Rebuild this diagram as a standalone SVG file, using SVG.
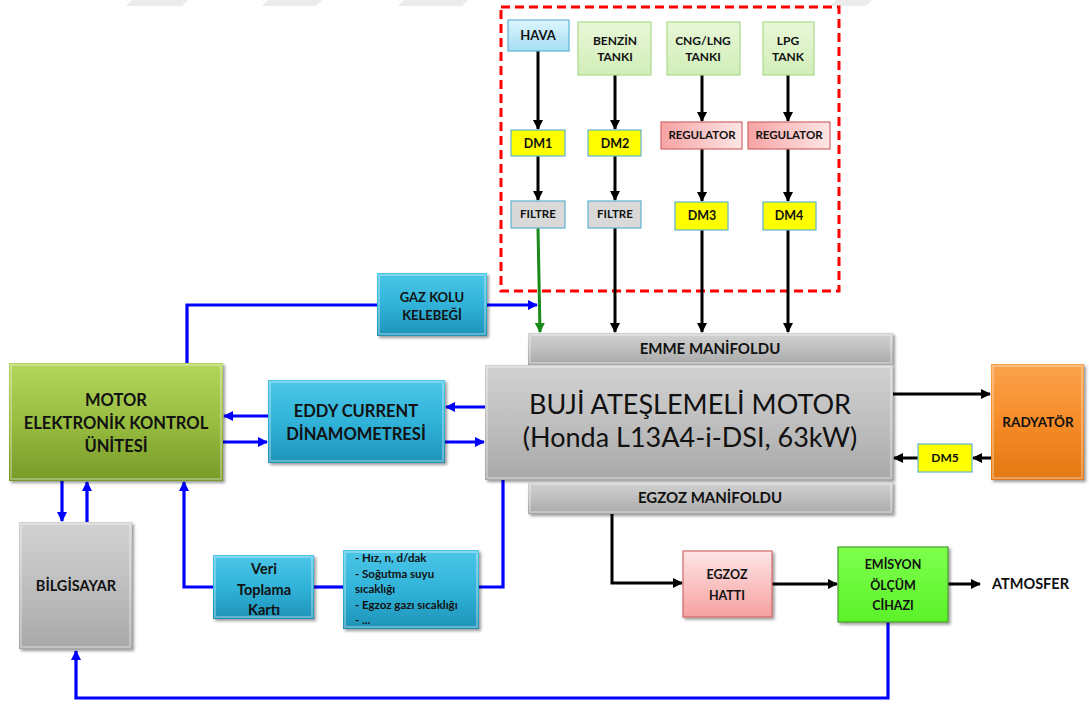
<svg xmlns="http://www.w3.org/2000/svg" width="1089" height="704" viewBox="0 0 1089 704">
<defs>
<style>
text{font-family:Lato,"Open Sans","Liberation Sans",sans-serif;font-weight:bold;fill:#111;text-anchor:middle}
text.reg{font-weight:normal}
text.l{text-anchor:start}
.blk{fill:none;stroke:#000;stroke-width:3;marker-end:url(#ab)}
.blu{fill:none;stroke:#0000ff;stroke-width:3.2;marker-end:url(#au)}
.blun{fill:none;stroke:#0000ff;stroke-width:3.2}
.grn{fill:none;stroke:#1a8a1a;stroke-width:3;marker-end:url(#ag)}
.bev{fill:none;stroke:#fff;stroke-opacity:.3;stroke-width:2}
.sh{filter:url(#shadow)}
</style>
<filter id="shadow" x="-10%" y="-10%" width="130%" height="130%">
<feDropShadow dx="2" dy="2" stdDeviation="1.5" flood-color="#000" flood-opacity="0.4"/>
</filter>
<linearGradient id="gBlue" x1="0" y1="0" x2="0" y2="1"><stop offset="0" stop-color="#4cc6e8"/><stop offset=".5" stop-color="#31b3d9"/><stop offset="1" stop-color="#1f93b8"/></linearGradient>
<linearGradient id="gEcu" x1="0" y1="0" x2="0" y2="1"><stop offset="0" stop-color="#b4d65c"/><stop offset=".5" stop-color="#98bd40"/><stop offset="1" stop-color="#789a28"/></linearGradient>
<linearGradient id="gGray" x1="0" y1="0" x2="0" y2="1"><stop offset="0" stop-color="#d2d2d2"/><stop offset=".5" stop-color="#bfbfbf"/><stop offset="1" stop-color="#a8a8a8"/></linearGradient>
<linearGradient id="gOrange" x1="0" y1="0" x2="0" y2="1"><stop offset="0" stop-color="#fba24c"/><stop offset=".5" stop-color="#f68c28"/><stop offset="1" stop-color="#e27812"/></linearGradient>
<linearGradient id="gAir" x1="0" y1="0" x2="0" y2="1"><stop offset="0" stop-color="#dcf5fd"/><stop offset="1" stop-color="#a6def3"/></linearGradient>
<linearGradient id="gTank" x1="0" y1="0" x2="0" y2="1"><stop offset="0" stop-color="#e8f7d8"/><stop offset="1" stop-color="#d2eeb8"/></linearGradient>
<linearGradient id="gReg" x1="0" y1="0" x2="1" y2="0"><stop offset="0" stop-color="#f7a3a3"/><stop offset="1" stop-color="#fde6e6"/></linearGradient>
<linearGradient id="gExh" x1="0" y1="0" x2="0" y2="1"><stop offset="0" stop-color="#fde6e6"/><stop offset="1" stop-color="#f7a0a0"/></linearGradient>
<linearGradient id="gEm" x1="0" y1="0" x2="0" y2="1"><stop offset="0" stop-color="#7dff4d"/><stop offset="1" stop-color="#5cf22a"/></linearGradient>
<marker id="ab" viewBox="0 0 10 10" refX="9" refY="5" markerWidth="11" markerHeight="10" markerUnits="userSpaceOnUse" orient="auto"><path d="M0,0 L10,5 L0,10 z" fill="#000"/></marker>
<marker id="au" viewBox="0 0 10 10" refX="9" refY="5" markerWidth="11" markerHeight="10" markerUnits="userSpaceOnUse" orient="auto"><path d="M0,0 L10,5 L0,10 z" fill="#0000ff"/></marker>
<marker id="ag" viewBox="0 0 10 10" refX="9" refY="5" markerWidth="11" markerHeight="10" markerUnits="userSpaceOnUse" orient="auto"><path d="M0,0 L10,5 L0,10 z" fill="#1a8a1a"/></marker>
</defs>
<rect width="1089" height="704" fill="#fff"/>
<g id="watermark" fill="#ececec">
<polygon points="132,0 188,0 182,6 126,6"/>
<polygon points="268,0 322,0 316,6 262,6"/>
<polygon points="404,0 468,0 462,6 398,6"/>
<polygon points="836,0 872,0 866,6 830,6"/>
</g>
<rect id="fuelFrame" x="501" y="7" width="338" height="284" fill="none" stroke="#ff0000" stroke-width="3" stroke-dasharray="9,5"/>

<g id="connectors">
<path class="blk" d="M538 51 V129"/>
<path class="blk" d="M538 156 V200"/>
<path class="blk" d="M615 75 V129"/>
<path class="blk" d="M615 156 V200"/>
<path class="blk" d="M615 228 V332"/>
<path class="blk" d="M702 75 V121"/>
<path class="blk" d="M702 149 V201"/>
<path class="blk" d="M702 230 V332"/>
<path class="blk" d="M788 75 V121"/>
<path class="blk" d="M788 149 V201"/>
<path class="blk" d="M788 230 V332"/>
<path class="grn" d="M538 228 L540 332"/>
<path class="blun" d="M187 363 V305 H377"/>
<path class="blu" d="M487 305 H537"/>
<path class="blu" d="M268 416 H224"/>
<path class="blu" d="M223 442 H267"/>
<path class="blu" d="M485 407 H446"/>
<path class="blu" d="M445 442 H484"/>
<path class="blu" d="M62 481 V521"/>
<path class="blu" d="M87 522 V482"/>
<path class="blu" d="M213 587 H184 V482"/>
<path class="blun" d="M314 587 H343"/>
<path class="blun" d="M479 587 H503 V480"/>
<path class="blu" d="M888 622 V698 H76 V651"/>
<path class="blk" d="M893 394 H990"/>
<path class="blk" d="M991 458 H973"/>
<path class="blk" d="M918 458 H894"/>
<path class="blk" d="M612 514 V583 H682"/>
<path class="blk" d="M772 584 H837"/>
<path class="blk" d="M948 584 H980"/>
</g>

<g id="hava"><rect x="508" y="20" width="61" height="31" fill="url(#gAir)" stroke="#5fb3d3" stroke-width="1.2"/><text x="538" y="40" font-size="13">HAVA</text></g>
<g id="benzin"><rect x="578" y="22" width="73" height="53" fill="url(#gTank)" stroke="#a9db8c" stroke-width="1.2"/><text x="615" y="45" font-size="12">BENZİN</text><text x="615" y="61" font-size="12">TANKI</text></g>
<g id="cng"><rect x="667" y="22" width="73" height="53" fill="url(#gTank)" stroke="#a9db8c" stroke-width="1.2"/><text x="703" y="45" font-size="12">CNG/LNG</text><text x="703" y="61" font-size="12">TANKI</text></g>
<g id="lpg"><rect x="763" y="22" width="51" height="53" fill="url(#gTank)" stroke="#a9db8c" stroke-width="1.2"/><text x="788" y="45" font-size="12">LPG</text><text x="788" y="61" font-size="12">TANK</text></g>
<g id="dm1"><rect x="511" y="130" width="54" height="26" fill="#ffff00" stroke="#5fb3d3" stroke-width="1.2"/><text x="538" y="148" font-size="12.5">DM1</text></g>
<g id="dm2"><rect x="588" y="130" width="53" height="26" fill="#ffff00" stroke="#5fb3d3" stroke-width="1.2"/><text x="615" y="148" font-size="12.5">DM2</text></g>
<g id="reg1"><rect x="661" y="122" width="81" height="27" fill="url(#gReg)" stroke="#d06868" stroke-width="1.2"/><text x="702" y="139" font-size="11.5">REGULATOR</text></g>
<g id="reg2"><rect x="748" y="122" width="82" height="27" fill="url(#gReg)" stroke="#d06868" stroke-width="1.2"/><text x="789" y="139" font-size="11.5">REGULATOR</text></g>
<g id="filtre1"><rect x="511" y="201" width="54" height="27" fill="#d9d9d9" stroke="#5fb3d3" stroke-width="1.2"/><text x="538" y="218" font-size="11.5">FILTRE</text></g>
<g id="filtre2"><rect x="588" y="201" width="53" height="27" fill="#d9d9d9" stroke="#5fb3d3" stroke-width="1.2"/><text x="615" y="218" font-size="11.5">FILTRE</text></g>
<g id="dm3"><rect x="675" y="202" width="53" height="28" fill="#ffff00" stroke="#5fb3d3" stroke-width="1.2"/><text x="702" y="220" font-size="12.5">DM3</text></g>
<g id="dm4"><rect x="763" y="202" width="53" height="28" fill="#ffff00" stroke="#5fb3d3" stroke-width="1.2"/><text x="789" y="220" font-size="12.5">DM4</text></g>

<g id="gazKolu"><rect class="sh" x="377" y="273" width="110" height="63" fill="url(#gBlue)"/><rect class="bev" x="379" y="275" width="106" height="59"/><text x="432" y="302" font-size="13">GAZ KOLU</text><text x="432" y="320" font-size="13">KELEBEĞİ</text></g>
<g id="emme"><rect class="sh" x="528" y="333" width="365" height="32" fill="url(#gGray)"/><rect class="bev" x="530" y="335" width="361" height="28"/><text x="710" y="354" font-size="15">EMME MANİFOLDU</text></g>
<g id="motor"><rect class="sh" x="485" y="365" width="408" height="115" fill="url(#gGray)"/><rect class="bev" x="487" y="367" width="404" height="111"/><text class="reg" x="690" y="414" font-size="27">BUJİ ATEŞLEMELİ MOTOR</text><text class="reg" x="690" y="447" font-size="27">(Honda L13A4-i-DSI, 63kW)</text></g>
<g id="egzozMan"><rect class="sh" x="528" y="482" width="365" height="32" fill="url(#gGray)"/><rect class="bev" x="530" y="484" width="361" height="28"/><text x="710" y="503" font-size="15">EGZOZ MANİFOLDU</text></g>
<g id="ecu"><rect class="sh" x="9" y="363" width="214" height="118" fill="url(#gEcu)"/><rect class="bev" x="11" y="365" width="210" height="114"/><text x="116" y="406" font-size="16.5">MOTOR</text><text x="116" y="429" font-size="16.5">ELEKTRONİK KONTROL</text><text x="116" y="452" font-size="16.5">ÜNİTESİ</text></g>
<g id="eddy"><rect class="sh" x="268" y="380" width="177" height="83" fill="url(#gBlue)"/><rect class="bev" x="270" y="382" width="173" height="79"/><text x="356" y="417" font-size="16.5">EDDY CURRENT</text><text x="356" y="440" font-size="16.5">DİNAMOMETRESİ</text></g>
<g id="radyator"><rect class="sh" x="991" y="364" width="93" height="116" fill="url(#gOrange)"/><rect class="bev" x="993" y="366" width="89" height="112"/><text x="1038" y="427" font-size="13.5">RADYATÖR</text></g>
<g id="dm5"><rect x="918" y="444" width="54" height="28" fill="#ffff00" stroke="#5fb3d3" stroke-width="1.2"/><text x="945" y="462" font-size="12">DM5</text></g>
<g id="bilgisayar"><rect class="sh" x="19" y="522" width="113" height="127" fill="url(#gGray)"/><rect class="bev" x="21" y="524" width="109" height="123"/><text x="76" y="591" font-size="14.5">BİLGİSAYAR</text></g>
<g id="veri"><rect class="sh" x="213" y="555" width="101" height="64" fill="url(#gBlue)"/><rect class="bev" x="215" y="557" width="97" height="60"/><text x="264" y="574" font-size="14.5">Veri</text><text x="264" y="595" font-size="14.5">Toplama</text><text x="264" y="615" font-size="14.5">Kartı</text></g>
<g id="veriler"><rect class="sh" x="343" y="550" width="136" height="79" fill="url(#gBlue)"/><rect class="bev" x="345" y="552" width="132" height="75"/>
<text class="l" x="355" y="562" font-size="11.5">- Hız, n, d/dak</text>
<text class="l" x="355" y="578" font-size="11.5">- Soğutma suyu</text>
<text class="l" x="355" y="593" font-size="11.5">sıcaklığı</text>
<text class="l" x="355" y="609" font-size="11.5">- Egzoz gazı sıcaklığı</text>
<text class="l" x="355" y="624" font-size="11.5">- ...</text></g>
<g id="egzozHatti"><rect class="sh" x="683" y="551" width="89" height="66" fill="url(#gExh)" stroke="#d06868" stroke-width="1.2"/><text x="727" y="579" font-size="12.5">EGZOZ</text><text x="727" y="600" font-size="12.5">HATTI</text></g>
<g id="emisyon"><rect class="sh" x="838" y="547" width="110" height="75" fill="url(#gEm)" stroke="#4a9a30" stroke-width="1.2"/><text x="893" y="569" font-size="12.5">EMİSYON</text><text x="893" y="590" font-size="12.5">ÖLÇÜM</text><text x="893" y="610" font-size="12.5">CİHAZI</text></g>
<g id="atmosfer"><text class="l" x="992" y="589" font-size="14.5">ATMOSFER</text></g>
</svg>
